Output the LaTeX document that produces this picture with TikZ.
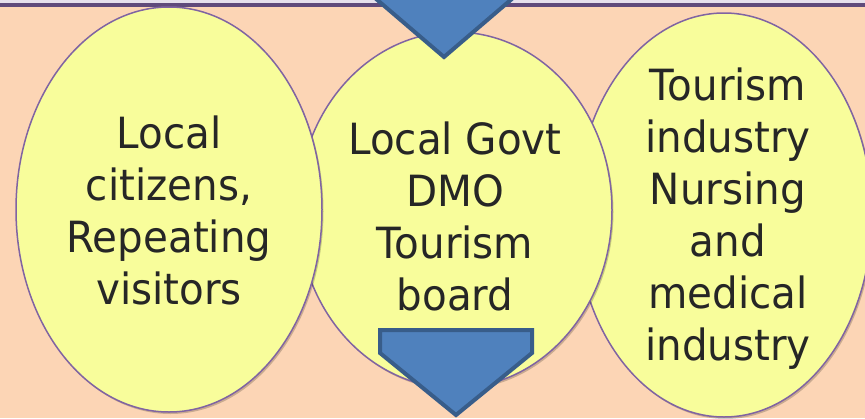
\documentclass[tikz,border=0pt]{standalone}
\usepackage{fontspec}
\setmainfont{DejaVu Sans}[FakeStretch=0.94]
\definecolor{peachbg}{RGB}{252,213,181}
\definecolor{topstrip}{RGB}{230,224,236}
\definecolor{topline}{RGB}{96,74,123}
\definecolor{ellipsefill}{RGB}{248,253,155}
\definecolor{ellipseline}{RGB}{128,100,162}
\definecolor{arrowblue}{RGB}{79,129,189}
\definecolor{arrowline}{RGB}{56,93,138}
\definecolor{textgray}{RGB}{38,38,38}
\usetikzlibrary{shapes,shadows}

\begin{document}
\begin{tikzpicture}[x=1pt, y=-1pt,
    group/.style={draw=ellipseline, line width=1.5pt, fill=ellipsefill, ellipse, inner sep=0pt,
        drop shadow={shadow xshift=1.5pt, shadow yshift=-2pt, opacity=0.2, fill=black}},
    grouptext/.style={align=center, text=textgray, font=\fontsize{43}{52}\selectfont},
    downarrow/.style={draw=arrowline, line width=4pt, fill=arrowblue, line join=miter}]
    \clip (0,0) rectangle (865,418);
    % background and top rule
    \fill[peachbg] (0,0) rectangle (865,418);
    \fill[topstrip] (0,0) rectangle (865,2.5);
    \fill[topline] (0,2.5) rectangle (865,7);

    % three groups, right one at the back
    \node[group, minimum width=296pt, minimum height=404pt] (industry) at (724,215) {};
    \node[group, minimum width=314pt, minimum height=356pt] (govt) at (455,210) {};
    \node[group, minimum width=306pt, minimum height=405pt] (citizens) at (169,209.5) {};

    \node[grouptext] (citizenstext) at ([yshift=-1pt]citizens.center) {Local\\citizens,\\Repeating\\visitors};
    \node[grouptext] (govttext) at ([yshift=-6pt]govt.center) {Local Govt\\DMO\\Tourism\\board};
    \node[grouptext] (industrytext) at ([xshift=4pt, yshift=-4pt]industry.center) {Tourism\\industry\\Nursing\\and\\medical\\industry};

    % block arrows in and out of the middle group
    \draw[downarrow] (368,-40) -- (520,-40) -- (520,-8) -- (444,57) -- (368,-8) -- cycle;
    \draw[downarrow] (380,330) -- (532,330) -- (532,353) -- (456,415) -- (380,353) -- cycle;
\end{tikzpicture}
\end{document}
